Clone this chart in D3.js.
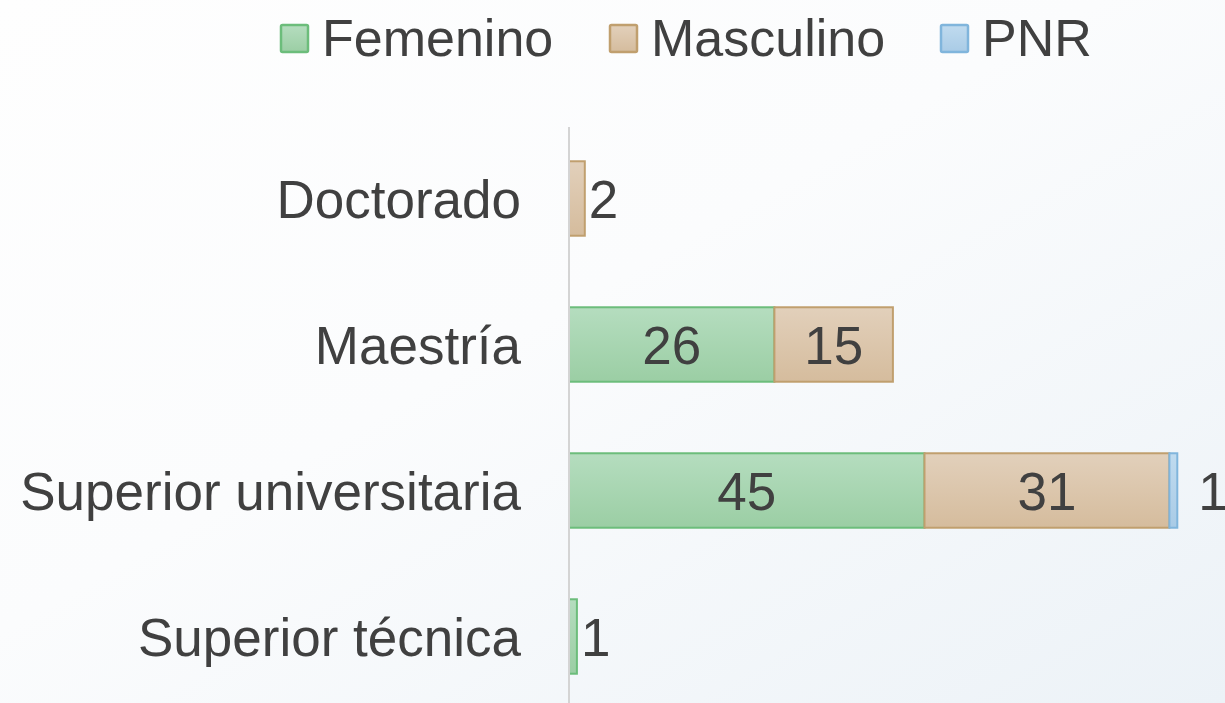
<!DOCTYPE html>
<html lang="es">
<head>
    <meta charset="UTF-8">
    <title>Nivel educativo por sexo</title>
    <style>
        body { margin: 0; overflow: hidden; }
        text { font-family: "Liberation Sans", Arial, sans-serif; fill: #404040; }
    </style>
</head>
<body>
    <svg id="chart" width="1225" height="703"></svg>

    <script src="https://d3js.org/d3.v7.min.js"></script>
    <script>
        const categories = ["Doctorado", "Maestría", "Superior universitaria", "Superior técnica"];
        const femenino = [0, 26, 45, 1];
        const masculino = [2, 15, 31, 0];
        const pnr = [0, 0, 1, 0];
        const seriesNames = ["Femenino", "Masculino", "PNR"];

        const width = 1225;
        const height = 703;
        const axisX = 569;
        const fontSize = 53;

        const series = [
            { name: "Femenino", values: femenino, top: "#b5ddbf", bottom: "#9bcea4", stroke: "#6cbd7b", off: 4 },
            { name: "Masculino", values: masculino, top: "#e2d0bb", bottom: "#d5bc9d", stroke: "#c09f6e", off: 4 },
            { name: "PNR", values: pnr, top: "#c0dbef", bottom: "#a9cbe6", stroke: "#80b5dc", off: 21 }
        ];

        const svg = d3.select("#chart");
        const defs = svg.append("defs");

        const bg = defs.append("linearGradient").attr("id", "bg")
            .attr("x1", "0").attr("y1", "0").attr("x2", "1").attr("y2", "1");
        bg.append("stop").attr("offset", "0%").attr("stop-color", "#fefefe");
        bg.append("stop").attr("offset", "45%").attr("stop-color", "#fbfcfd");
        bg.append("stop").attr("offset", "100%").attr("stop-color", "#ecf2f7");

        series.forEach((s, i) => {
            const g = defs.append("linearGradient").attr("id", "grad" + i)
                .attr("x1", "0").attr("y1", "0").attr("x2", "0").attr("y2", "1");
            g.append("stop").attr("offset", "0%").attr("stop-color", s.top);
            g.append("stop").attr("offset", "100%").attr("stop-color", s.bottom);
        });

        svg.append("rect").attr("width", width).attr("height", height).attr("fill", "url(#bg)");

        const yScale = d3.scaleBand()
            .domain(categories)
            .range([125.5, 709.5])
            .paddingInner(0.49)
            .paddingOuter(0.245);

        const xScale = d3.scaleLinear()
            .domain([0, 83])
            .range([axisX, axisX + 83 * 7.9]);

        // category labels
        svg.append("g").selectAll("text")
            .data(categories)
            .join("text")
            .attr("x", axisX - 48)
            .attr("y", (d) => yScale(d) + yScale.bandwidth() / 2)
            .attr("dy", "0.36em")
            .attr("text-anchor", "end")
            .attr("font-size", fontSize)
            .text((d) => d);

        // stacked bars
        const stackData = categories.map((c, i) => ({ cat: c, Femenino: femenino[i], Masculino: masculino[i], PNR: pnr[i] }));
        const stacked = d3.stack().keys(seriesNames)(stackData);

        stacked.forEach((layer, si) => {
            const s = series[si];
            const g = svg.append("g");
            const segs = layer.filter((d) => d[1] - d[0] > 0);
            g.selectAll("rect")
                .data(segs)
                .join("rect")
                .attr("x", (d) => xScale(d[0]))
                .attr("y", (d) => yScale(d.data.cat))
                .attr("width", (d) => xScale(d[1]) - xScale(d[0]))
                .attr("height", yScale.bandwidth())
                .attr("fill", `url(#grad${si})`)
                .attr("stroke", s.stroke)
                .attr("stroke-width", 2);

            g.selectAll("text")
                .data(segs)
                .join("text")
                .attr("x", (d) => {
                    const w = xScale(d[1]) - xScale(d[0]);
                    return w > 40 ? (xScale(d[0]) + xScale(d[1])) / 2 : xScale(d[1]) + s.off;
                })
                .attr("y", (d) => yScale(d.data.cat) + yScale.bandwidth() / 2)
                .attr("dy", "0.36em")
                .attr("text-anchor", (d) => (xScale(d[1]) - xScale(d[0]) > 40 ? "middle" : "start"))
                .attr("font-size", fontSize)
                .text((d) => d[1] - d[0]);
        });

        // vertical axis line
        svg.append("line")
            .attr("x1", axisX).attr("x2", axisX)
            .attr("y1", 127).attr("y2", height)
            .attr("stroke", "#d4d4d4")
            .attr("stroke-width", 2);

        // legend
        const legend = svg.append("g");
        const legendX = [280, 609, 940];
        series.forEach((s, i) => {
            const item = legend.append("g").attr("transform", `translate(${legendX[i]}, 38)`);
            item.append("rect")
                .attr("x", 1).attr("y", -13)
                .attr("width", 27).attr("height", 27)
                .attr("rx", 1.5)
                .attr("fill", `url(#grad${i})`)
                .attr("stroke", s.stroke)
                .attr("stroke-width", 2.5);
            item.append("text")
                .attr("x", 42)
                .attr("y", -1)
                .attr("dy", "0.36em")
                .attr("font-size", 52)
                .text(s.name);
        });
    </script>
</body>
</html>
